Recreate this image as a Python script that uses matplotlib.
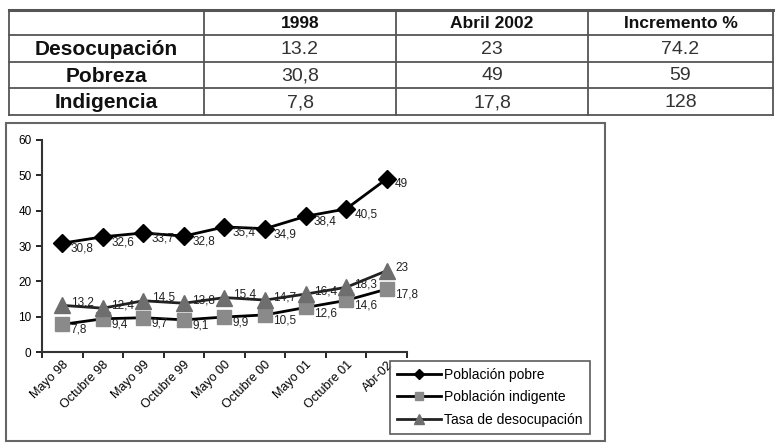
import matplotlib.pyplot as plt
from matplotlib.patches import Rectangle

# table data
col_headers = ['1998', 'Abril 2002', 'Incremento %']
row_labels = ['Desocupación', 'Pobreza', 'Indigencia']
table_vals = [['13.2', '23', '74.2'],
              ['30,8', '49', '59'],
              ['7,8', '17,8', '128']]

# chart data
periods = ['Mayo 98', 'Octubre 98', 'Mayo 99', 'Octubre 99', 'Mayo 00',
           'Octubre 00', 'Mayo 01', 'Octubre 01', 'Abr-02']
pobre = [30.8, 32.6, 33.7, 32.8, 35.4, 34.9, 38.4, 40.5, 49]
indigente = [7.8, 9.4, 9.7, 9.1, 9.9, 10.5, 12.6, 14.6, 17.8]
desocupacion = [13.2, 12.4, 14.5, 13.8, 15.4, 14.7, 16.4, 18.3, 23]

plt.rcParams['font.family'] = ['Liberation Sans', 'DejaVu Sans']

fig = plt.figure(figsize=(7.76, 4.48), dpi=100)

# overlay in pixel coords for the table and the chart frame
ov = fig.add_axes([0, 0, 1, 1])
ov.set_xlim(0, 776)
ov.set_ylim(448, 0)
ov.axis('off')

col_x = [9, 204, 396, 588, 773]
row_y = [10, 35, 62, 88, 115]
for k, y in enumerate(row_y):
    ov.plot([col_x[0], col_x[-1]], [y, y], color='#555555', lw=2.2 if k == 0 else 1.3)
for x in col_x:
    ov.plot([x, x], [row_y[0], row_y[-1]], color='#555555', lw=1.3)

for j, h in enumerate(col_headers):
    ov.text((col_x[j + 1] + col_x[j + 2]) / 2, (row_y[0] + row_y[1]) / 2 + 1, h,
            ha='center', va='center', fontsize=12.5, fontweight='bold', color='#111111')
for i, lab in enumerate(row_labels):
    yc = (row_y[i + 1] + row_y[i + 2]) / 2 + 1
    ov.text((col_x[0] + col_x[1]) / 2, yc, lab, ha='center', va='center',
            fontsize=15, fontweight='bold', color='#111111')
    for j, v in enumerate(table_vals[i]):
        ov.text((col_x[j + 1] + col_x[j + 2]) / 2, yc, v, ha='center', va='center',
                fontsize=14, color='#333333')

# chart frame
ov.add_patch(Rectangle((6, 123), 599, 318, fill=False, ec='#666666', lw=1.5))

ax = fig.add_axes([42 / 776, (448 - 352) / 448, 365 / 776, 212 / 448])
x = list(range(len(periods)))

ax.plot(x, pobre, color='black', marker='D', markersize=9, lw=2,
        label='Población pobre')
ax.plot(x, indigente, color='black', marker='s', markersize=10, lw=2,
        markerfacecolor='#8a8a8a', markeredgecolor='#8a8a8a', label='Población indigente')
ax.plot(x, desocupacion, color='#222222', marker='^', markersize=11, lw=2,
        markerfacecolor='#6e6e6e', markeredgecolor='#6e6e6e', label='Tasa de desocupación')

def fmt(v):
    return ('%g' % v).replace('.', ',')

for series, dy in ((pobre, -4), (indigente, -4), (desocupacion, 2)):
    for xi, v in zip(x, series):
        ax.annotate(fmt(v), (xi, v), xytext=(6, dy), textcoords='offset points',
                    ha='left', va='center', fontsize=8.5, color='#222222')

ax.set_xlim(-0.5, len(periods) - 0.5)
ax.set_ylim(0, 60)
ax.set_yticks(range(0, 61, 10))
ax.set_xticks([i - 0.5 for i in range(len(periods) + 1)], minor=False)
ax.set_xticklabels([])
ax.set_xticks(x, minor=True)
ax.set_xticklabels(periods, minor=True, rotation=45, ha='right',
                   rotation_mode='anchor', fontsize=9)
ax.tick_params(axis='x', which='minor', length=0, pad=5)
ax.tick_params(axis='x', which='major', direction='out', length=4, width=1.2)
ax.tick_params(axis='y', direction='out', length=4, width=1.2, labelsize=8.5)
for s in ['top', 'right']:
    ax.spines[s].set_visible(False)
for s in ['left', 'bottom']:
    ax.spines[s].set_linewidth(1.5)
    ax.spines[s].set_color('#333333')

leg = ax.legend(loc='upper left', bbox_to_anchor=(390 / 776, (448 - 361) / 448),
                bbox_transform=fig.transFigure, borderaxespad=0, fontsize=10,
                frameon=True, fancybox=False, edgecolor='#333333', handlelength=3.2,
                handletextpad=0.2, borderpad=0.5, labelspacing=0.6,
                markerscale=0.6)
leg.get_frame().set_linewidth(1.2)

fig.savefig('out.png', dpi=100)
